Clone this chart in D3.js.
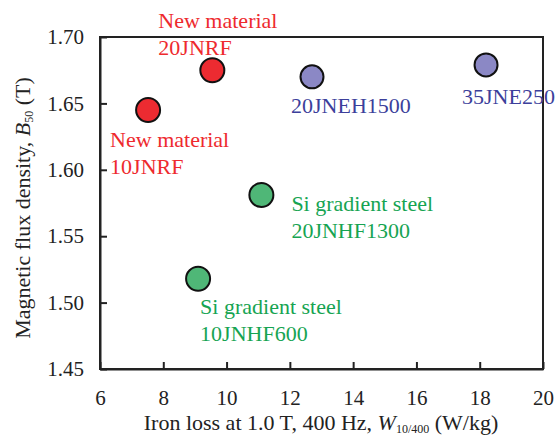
<!DOCTYPE html>
<html>
<head>
<meta charset="utf-8">
<script src="https://cdn.jsdelivr.net/npm/d3@7"></script>
<style>
  body { margin: 0; background: #fff; }
  svg { display: block; }
  svg text { font-family: 'Liberation Serif', 'Times New Roman', serif; }
  .axis text { font-size: 21px; fill: #222; }
  .axis path, .axis line { stroke: #222; stroke-width: 2; }
</style>
</head>
<body>
<svg id="chart"></svg>
<script>
// data
const grades = ['10JNRF', '20JNRF', '20JNEH1500', '35JNE250', '20JNHF1300', '10JNHF600'];
const ironLoss = [7.52, 9.55, 12.7, 18.2, 11.1, 9.1];          // W10/400 (W/kg)
const fluxDensity = [1.645, 1.675, 1.670, 1.679, 1.581, 1.518]; // B50 (T)
const groupOf = ['new', 'new', 'conv', 'conv', 'si', 'si'];
const prefix = ['New material', 'New material', '', '', 'Si gradient steel', 'Si gradient steel'];
const xTicks = [6, 8, 10, 12, 14, 16, 18, 20];
const yTicks = [1.45, 1.50, 1.55, 1.60, 1.65, 1.70];

// styles per group
const fill = {new: '#ec2b31', conv: '#8b88c5', si: '#4fb777'};
const textColor = {new: '#ee2a2e', conv: '#3c3f9b', si: '#16a452'};
const radius = {new: 12, conv: 11.5, si: 12};

// label offsets from the dot centre (px)
const labelPos = {
	'10JNRF': [-38, 37],
	'20JNRF': [-54, -42],
	'20JNEH1500': [-21, 36],
	'35JNE250': [-24, 39],
	'20JNHF1300': [30, 16],
	'10JNHF600': [2, 35]
};
const lineGap = 27;
const serif = "'Liberation Serif', 'Times New Roman', serif";

const W = 555, H = 439;
const margin = {top: 37, bottom: 70, left: 100, right: 12};
const width = W - margin.left - margin.right;
const height = H - margin.top - margin.bottom;

const $svg = d3.select('#chart').attr('width', W).attr('height', H);
const $vis = $svg.append('g')
	.attr('transform', 'translate(' + margin.left + ',' + margin.top + ')');

const scaleX = d3.scaleLinear().domain([6, 20]).range([0, width]);
const scaleY = d3.scaleLinear().domain([1.45, 1.70]).range([height, 0]);

// frame (top + right)
$vis.append('rect')
	.attr('x', 0).attr('y', 0)
	.attr('width', width).attr('height', height)
	.attr('fill', 'none')
	.attr('stroke', '#222')
	.attr('stroke-width', 2);

$vis.append('g')
	.attr('class', 'axis axis--x')
	.attr('transform', 'translate(0,' + height + ')')
	.call(d3.axisBottom(scaleX).tickValues(xTicks).tickSize(-7).tickPadding(21).tickSizeOuter(0))
	.attr('font-family', serif);

$vis.append('g')
	.attr('class', 'axis axis--y')
	.call(d3.axisLeft(scaleY).tickValues(yTicks).tickSize(-7).tickPadding(16).tickSizeOuter(0)
		.tickFormat(d3.format('.2f')))
	.attr('font-family', serif);

// dots
const points = grades.map((g, i) => ({name: g, x: ironLoss[i], y: fluxDensity[i], grp: groupOf[i], pre: prefix[i]}));

$vis.selectAll('.dot')
	.data(points)
	.enter()
	.append('circle')
	.attr('class', 'dot')
	.attr('cx', d => scaleX(d.x))
	.attr('cy', d => scaleY(d.y))
	.attr('r', d => radius[d.grp])
	.attr('fill', d => fill[d.grp])
	.attr('stroke', '#111')
	.attr('stroke-width', 2);

// labels
const $labels = $vis.selectAll('.label')
	.data(points)
	.enter()
	.append('text')
	.attr('class', 'label')
	.attr('font-family', serif)
	.attr('font-size', 22)
	.attr('fill', d => textColor[d.grp])
	.attr('transform', d => 'translate(' + (scaleX(d.x) + labelPos[d.name][0]) + ',' + (scaleY(d.y) + labelPos[d.name][1]) + ')');

$labels.each(function(d) {
	const t = d3.select(this);
	if (d.pre) {
		t.append('tspan').attr('x', 0).attr('y', 0).text(d.pre);
		t.append('tspan').attr('x', 0).attr('y', lineGap).text(d.name);
	} else {
		t.append('tspan').attr('x', 0).attr('y', 0).text(d.name);
	}
});

// axis titles
const xTitle = $svg.append('text')
	.attr('x', 321).attr('y', 430)
	.attr('text-anchor', 'middle')
	.attr('font-family', serif)
	.attr('font-size', 22)
	.attr('fill', '#222');
xTitle.append('tspan').text('Iron loss at 1.0 T, 400 Hz, ');
xTitle.append('tspan').attr('font-style', 'italic').text('W');
xTitle.append('tspan').attr('font-size', 12).attr('dy', 3).text('10/400');
xTitle.append('tspan').attr('dy', -3).text(' (W/kg)');

const yTitle = $svg.append('text')
	.attr('transform', 'translate(30,208) rotate(-90)')
	.attr('text-anchor', 'middle')
	.attr('font-family', serif)
	.attr('font-size', 22)
	.attr('fill', '#222');
yTitle.append('tspan').text('Magnetic flux density, ');
yTitle.append('tspan').attr('font-style', 'italic').text('B');
yTitle.append('tspan').attr('font-size', 12).attr('dy', 3).text('50');
yTitle.append('tspan').attr('dy', -3).text(' (T)');
</script>
</body>
</html>
